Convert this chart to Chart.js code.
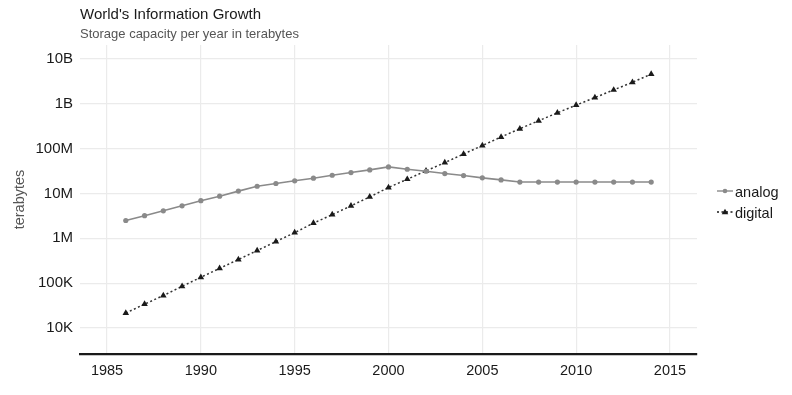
<!DOCTYPE html>
<html>
<head>
<meta charset="utf-8">
<script src="https://cdn.jsdelivr.net/npm/chart.js@4/dist/chart.umd.min.js"></script>
<style>
  html, body { margin: 0; padding: 0; background: #fff; }
  #wrap { position: relative; width: 792px; height: 395px; }
</style>
</head>
<body>
<div id="wrap"><canvas id="c" width="792" height="395"></canvas></div>
<script>
const titleText = "World's Information Growth";
const subtitleText = "Storage capacity per year in terabytes";
const yAxisTitle = "terabytes";
const years = [1986,1987,1988,1989,1990,1991,1992,1993,1994,1995,1996,1997,1998,1999,2000,
               2001,2002,2003,2004,2005,2006,2007,2008,2009,2010,2011,2012,2013,2014];
const analog = [2.5e6,3.2e6,4.1e6,5.3e6,6.9e6,8.7e6,1.13e7,1.45e7,1.67e7,1.92e7,2.19e7,2.55e7,2.93e7,3.36e7,3.92e7,
                3.47e7,3.13e7,2.78e7,2.51e7,2.23e7,2.01e7,1.8e7,1.8e7,1.8e7,1.8e7,1.8e7,1.8e7,1.8e7,1.8e7];
const digital = [2.15e4,3.4e4,5.3e4,8.5e4,1.35e5,2.14e5,3.37e5,5.33e5,8.46e5,1.34e6,2.18e6,3.37e6,5.3e6,8.4e6,1.36e7,
                 2.08e7,3.19e7,4.88e7,7.6e7,1.17e8,1.82e8,2.78e8,4.19e8,6.3e8,9.35e8,1.38e9,2.04e9,3.02e9,4.6e9];
const xTicks = [1985,1990,1995,2000,2005,2010,2015];
const yTicks = [1e4,1e5,1e6,1e7,1e8,1e9,1e10];
const yTickLabels = ["10K","100K","1M","10M","100M","1B","10B"];
const seriesNames = ["analog","digital"];

const FONT = '"Liberation Sans", Arial, Helvetica, sans-serif';

const textPlugin = {
  id: 'texts',
  afterDraw(chart) {
    const ctx = chart.ctx;
    ctx.save();
    ctx.textBaseline = 'alphabetic';
    ctx.textAlign = 'left';
    ctx.fillStyle = '#1a1a1a';
    ctx.font = '15px ' + FONT;
    ctx.fillText(titleText, 80, 19);
    ctx.fillStyle = '#555555';
    ctx.font = '13px ' + FONT;
    ctx.fillText(subtitleText, 80, 37.5);
    // y axis title
    ctx.save();
    ctx.translate(24, (chart.chartArea.top + chart.chartArea.bottom) / 2);
    ctx.rotate(-Math.PI / 2);
    ctx.textAlign = 'center';
    ctx.fillStyle = '#555555';
    ctx.font = '14.5px ' + FONT;
    ctx.fillText(yAxisTitle, 0, 0);
    ctx.restore();
    // legend
    const items = [
      {name: seriesNames[0], y: 191, color: '#8a8a8a', dash: [], style: 'circle'},
      {name: seriesNames[1], y: 212, color: '#1a1a1a', dash: [2, 2.5], style: 'triangle'}
    ];
    items.forEach(it => {
      ctx.save();
      ctx.strokeStyle = it.color;
      ctx.lineWidth = 1.4;
      ctx.setLineDash(it.dash);
      ctx.beginPath();
      ctx.moveTo(717, it.y);
      ctx.lineTo(733, it.y);
      ctx.stroke();
      ctx.setLineDash([]);
      ctx.fillStyle = it.color;
      if (it.style === 'circle') {
        ctx.beginPath(); ctx.arc(725, it.y, 2.3, 0, Math.PI * 2); ctx.fill();
      } else {
        ctx.beginPath();
        ctx.moveTo(725, it.y - 3.3); ctx.lineTo(728.3, it.y + 2.3); ctx.lineTo(721.7, it.y + 2.3);
        ctx.closePath(); ctx.fill();
      }
      ctx.restore();
      ctx.fillStyle = '#1a1a1a';
      ctx.font = '14.5px ' + FONT;
      ctx.textAlign = 'left';
      ctx.fillText(it.name, 735, it.y + 5.5);
    });
    ctx.restore();
  }
};

new Chart(document.getElementById('c'), {
  type: 'line',
  data: {
    datasets: [
      {
        label: seriesNames[0],
        data: years.map((yr, i) => ({x: yr, y: analog[i]})),
        borderColor: '#8a8a8a',
        backgroundColor: '#8a8a8a',
        borderWidth: 1.6,
        pointRadius: 2.6,
        pointBorderWidth: 0,
        pointStyle: 'circle',
        tension: 0
      },
      {
        label: seriesNames[1],
        data: years.map((yr, i) => ({x: yr, y: digital[i]})),
        borderColor: '#333333',
        backgroundColor: '#1a1a1a',
        borderWidth: 1.5,
        borderDash: [2, 2.5],
        pointRadius: 3.8,
        pointBorderWidth: 0,
        pointStyle: 'triangle',
        tension: 0
      }
    ]
  },
  options: {
    responsive: false,
    devicePixelRatio: 1,
    animation: false,
    layout: { padding: { top: 45, right: 95, bottom: 0, left: 0 } },
    plugins: {
      legend: { display: false },
      tooltip: { enabled: false },
      title: { display: false }
    },
    scales: {
      x: {
        type: 'linear',
        min: 1983.56,
        max: 2016.44,
        afterBuildTicks: s => { s.ticks = xTicks.map(v => ({value: v})); },
        afterFit: s => { s.height = 41; },
        grid: { color: '#ebebeb', lineWidth: 1.2, drawTicks: false },
        border: { display: true, color: '#1a1a1a', width: 2.2 },
        ticks: {
          color: '#1a1a1a',
          font: { family: FONT, size: 14.5 },
          padding: 8,
          maxRotation: 0,
          autoSkip: false,
          callback: v => String(v)
        }
      },
      y: {
        type: 'logarithmic',
        min: 2630,
        max: 2.05e10,
        afterBuildTicks: s => { s.ticks = yTicks.map(v => ({value: v})); },
        afterFit: s => { s.width = 80; },
        grid: { color: '#ebebeb', lineWidth: 1.2, drawTicks: false },
        border: { display: false },
        ticks: {
          color: '#1a1a1a',
          font: { family: FONT, size: 15 },
          padding: 7,
          autoSkip: false,
          callback: (v, i) => yTickLabels[i]
        }
      }
    }
  },
  plugins: [textPlugin]
});
</script>
</body>
</html>
